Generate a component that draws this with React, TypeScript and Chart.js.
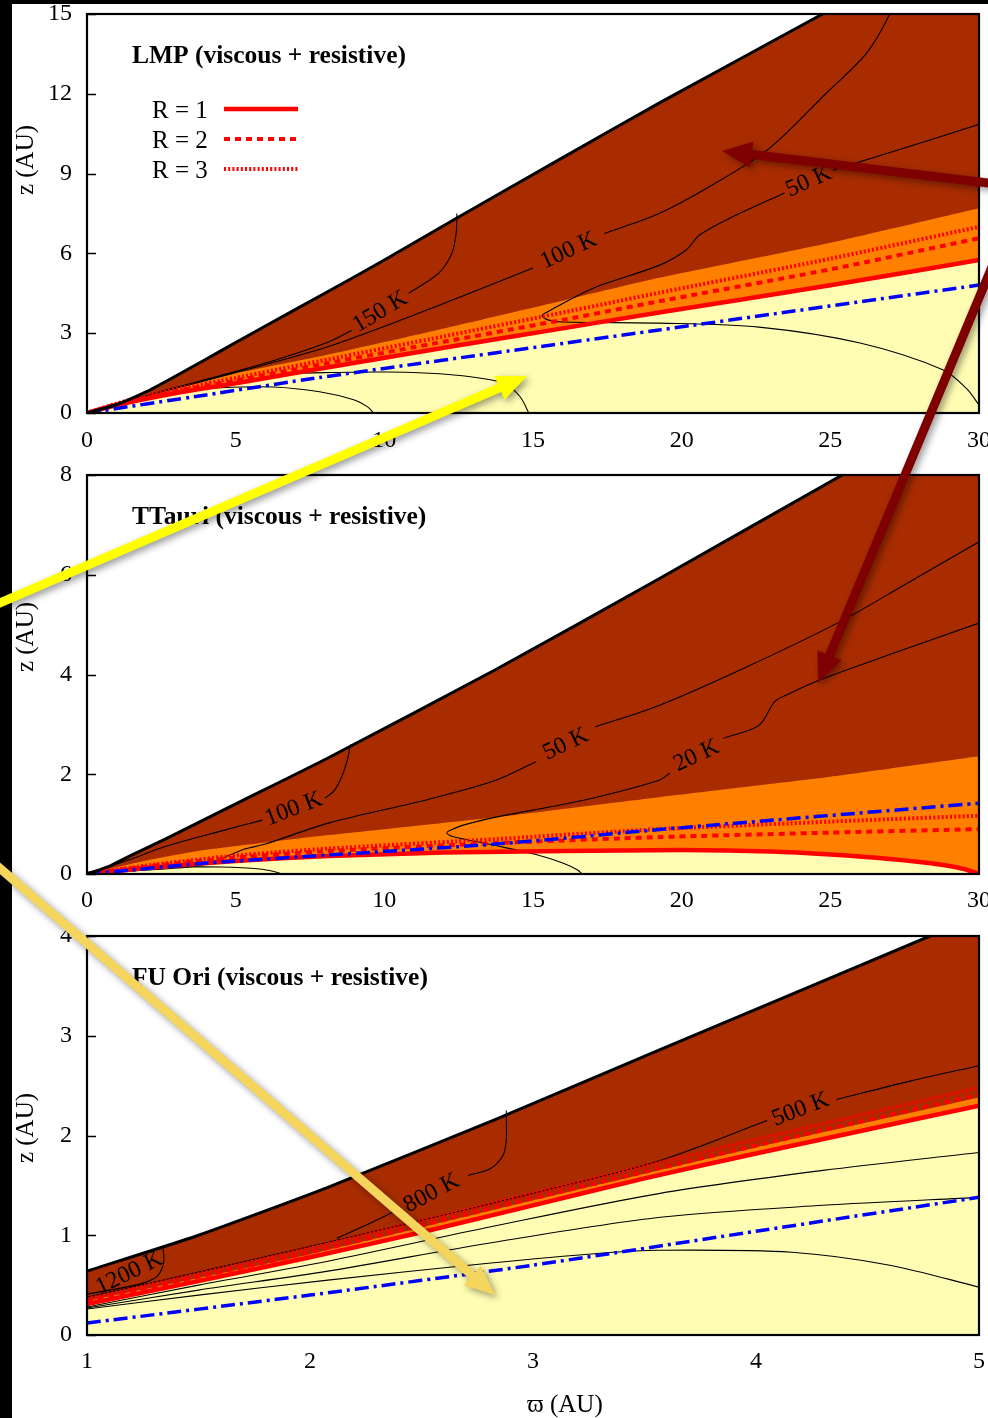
import React, { useEffect, useRef } from 'react';
import { Chart, registerables } from 'chart.js';

Chart.register(...registerables);

type Pt = [number, number] | null;

const SERIF = "'Liberation Serif', 'Times New Roman', 'DejaVu Serif', serif";
const BROWN = '#A82C00';
const ORANGE = '#FF8000';
const PALE = '#FFFDB3';
const RED = '#FF0000';
const BLUE = '#0000FF';

// ---------------- LMP disc (x: 0..30 AU, z: 0..15 AU) ----------------
const lmpSurface: Pt[] = [[0, 0], [1, 0.32], [2, 0.8], [3, 1.4], [4, 2.02], [5, 2.65], [6, 3.27], [8, 4.5], [10, 5.75], [12.44, 7.33], [16, 9.6], [19.24, 11.65], [24.74, 15], [30, 18.3]];
const lmpOrangeTop: Pt[] = [[0, 0], [2, 0.68], [4.85, 1.45], [7.8, 2.12], [11.2, 2.97], [16.1, 4.25], [19.24, 5.08], [25, 6.4], [30, 7.7]];
const lmpR1: Pt[] = [[0, 0], [1, 0.3], [3, 0.75], [5, 1.12], [8.12, 1.72], [12, 2.45], [16.1, 3.2], [19.24, 3.78], [25, 4.8], [30, 5.75]];
const lmpR2: Pt[] = [[0, 0], [1, 0.33], [3, 0.82], [5, 1.22], [8.12, 1.88], [12, 2.68], [16.1, 3.52], [19.24, 4.2], [25, 5.4], [30, 6.57]];
const lmpR3: Pt[] = [[0, 0], [1, 0.36], [3, 0.9], [5, 1.32], [8.12, 2.02], [12, 2.88], [16.1, 3.8], [19.24, 4.52], [25, 5.8], [30, 7.0]];
const lmpBlue: Pt[] = [[0, 0], [4, 0.68], [7.8, 1.33], [16.1, 2.63], [19.24, 3.12], [30, 4.81]];
const lmpT150: Pt[] = [[0, 0], [2, 0.66], [4.8, 1.5], [6.5, 2.05], [8.12, 2.67], [8.9, 3.1], null, [10.82, 4.5], [11.83, 5.26], [12.27, 6.0], [12.42, 6.8], [12.44, 7.5]];
const lmpT100: Pt[] = [[0, 0], [2, 0.63], [4.8, 1.46], [8.12, 2.5], [11.5, 3.9], [15.0, 5.45], null, [17.4, 6.75], [19.24, 7.5], [21, 8.55], [22.95, 9.95], [24.87, 12.03], [26.22, 13.53], [27.0, 15.0], [27.3, 16]];
const lmpT50: Pt[] = [[30, 10.85], [27.6, 10.0], [25.1, 9.13], null, [23.46, 8.27], [21.5, 7.26], [20.6, 6.69], [20.15, 6.13], [19.24, 5.55], [17.12, 4.74], [16.0, 4.12], [15.45, 3.78], [15.3, 3.66], [15.5, 3.5], [16.0, 3.42], [19.24, 3.38], [22.6, 3.23], [26, 2.63], [28.8, 1.62], [29.6, 0.9], [30, 0.3]];
const lmpLowA: Pt[] = [[3.5, 0.84], [4.5, 0.95], [6.27, 0.98], [7.82, 0.8], [8.97, 0.5], [9.45, 0.22], [9.64, 0]];
const lmpLowB: Pt[] = [[7.0, 1.5], [10.08, 1.54], [12.34, 1.43], [14.02, 1.13], [14.56, 0.62], [14.86, 0]];
const lmpLabels = [
  { text: '150 K', x: 9.86, y: 3.8, angle: -31 },
  { text: '100 K', x: 16.2, y: 6.1, angle: -25 },
  { text: '50 K', x: 24.28, y: 8.7, angle: -24 },
];

// ---------------- T Tauri disc (x: 0..30 AU, z: 0..8 AU) ----------------
const ttSurface: Pt[] = [[0, 0], [0.8, 0.17], [1.5, 0.38], [2.63, 0.7], [4.85, 1.36], [8.12, 2.33], [13.75, 4.1], [19.24, 5.92], [25.4, 8.0], [30, 9.55]];
const ttOrangeTop: Pt[] = [[0, 0], [2, 0.27], [3.74, 0.46], [6, 0.63], [8.12, 0.78], [13.75, 1.14], [19.24, 1.54], [25, 1.95], [30, 2.36]];
const ttR1: Pt[] = [[0, 0], [2, 0.12], [5, 0.26], [8.12, 0.36], [12, 0.43], [16, 0.46], [20, 0.48], [23, 0.45], [25, 0.39], [27, 0.3], [28.8, 0.18], [29.5, 0.1], [30, 0]];
const ttR2: Pt[] = [[0, 0], [2, 0.15], [5, 0.33], [8.12, 0.46], [13.75, 0.62], [19.24, 0.74], [25, 0.83], [30, 0.9]];
const ttR3: Pt[] = [[0, 0], [2, 0.17], [5, 0.37], [8.12, 0.51], [13.75, 0.7], [19.24, 0.9], [25, 1.05], [30, 1.17]];
const ttBlue: Pt[] = [[0, 0], [1.5, 0.08], [4, 0.22], [8.12, 0.38], [13.75, 0.6], [19.24, 0.89], [30, 1.42]];
const ttT100: Pt[] = [[0, 0], [1.5, 0.3], [2.63, 0.55], [4.5, 0.86], [5.9, 1.08], null, [8.0, 1.52], [8.3, 1.66], [8.56, 1.94], [8.76, 2.3], [8.86, 2.6]];
const ttT50: Pt[] = [[0, 0], [2, 0.08], [3.8, 0.17], [4.9, 0.4], [5.3, 0.5], [6, 0.6], [8.12, 1.02], [11.5, 1.5], [13.75, 1.88], [15.1, 2.25], null, [17.1, 2.95], [19.24, 3.38], [22, 4.1], [25.3, 5.05], [27.5, 5.8], [30, 6.66]];
const ttT20: Pt[] = [[30, 5.03], [27, 4.4], [24.64, 3.89], [23.53, 3.59], [23.12, 3.45], [22.6, 2.98], [21.4, 2.72], null, [19.6, 2.02], [19.24, 1.88], [17, 1.52], [15, 1.28], [13.75, 1.14], [12.6, 0.97], [12.2, 0.87], [12.1, 0.82], [12.3, 0.75], [13.0, 0.66], [13.75, 0.57], [15.1, 0.39], [16.0, 0.22], [16.5, 0.08], [16.65, 0]];
const ttLow: Pt[] = [[1.8, 0.12], [3, 0.14], [4.5, 0.14], [5.8, 0.1], [6.35, 0.04], [6.54, 0]];
const ttLabels = [
  { text: '100 K', x: 6.95, y: 1.3, angle: -21 },
  { text: '50 K', x: 16.1, y: 2.6, angle: -26 },
  { text: '20 K', x: 20.5, y: 2.37, angle: -25 },
];

// ---------------- FU Ori disc (x: 1..5 AU, z: 0..4 AU) ----------------
const fuSurface: Pt[] = [[1, 0.64], [1.5, 1.0], [2.08, 1.48], [2.83, 2.16], [3.57, 2.86], [4.78, 4.0], [5, 4.21]];
const fuOrangeTop: Pt[] = [[1, 0.34], [2, 0.81], [3, 1.35], [4, 1.88], [5, 2.38]];
const fuR1: Pt[] = [[1, 0.31], [1.5, 0.54], [2, 0.78], [2.5, 1.03], [3, 1.3], [3.5, 1.57], [4, 1.82], [4.5, 2.06], [5, 2.3]];
const fuR2: Pt[] = [[1, 0.34], [2, 0.83], [3, 1.37], [4, 1.9], [5, 2.41]];
const fuR3: Pt[] = [[1, 0.36], [2, 0.87], [3, 1.42], [4, 1.96], [5, 2.48]];
const fuBlue: Pt[] = [[1, 0.12], [2, 0.4], [3, 0.7], [4, 1.04], [5, 1.38]];
const fuT1200: Pt[] = [[1.34, 0.89], [1.345, 0.75], [1.335, 0.66], [1.31, 0.58], [1.25, 0.52], [1.15, 0.47], [1.05, 0.43], [1.0, 0.41]];
const fuT800: Pt[] = [[2.88, 2.25], [2.88, 1.95], [2.865, 1.8], [2.81, 1.67], [2.71, 1.6], null, [2.38, 1.24], [2.25, 1.1], [2.12, 0.97]];
const fuT500: Pt[] = [[1, 0.38], [1.5, 0.63], [2.08, 0.93], [2.5, 1.15], [3.0, 1.42], [3.57, 1.75], [4.05, 2.15], null, [4.36, 2.36], [4.7, 2.55], [5, 2.7]];
const fuC1: Pt[] = [[1, 0.28], [1.5, 0.5], [2.08, 0.74], [2.8, 1.08], [3.57, 1.42], [4.3, 1.65], [5, 1.83]];
const fuC2: Pt[] = [[1, 0.27], [1.5, 0.45], [2.08, 0.64], [2.8, 0.92], [3.57, 1.18], [4.3, 1.3], [5, 1.38]];
const fuC3: Pt[] = [[1, 0.26], [1.5, 0.4], [2.08, 0.55], [2.8, 0.72], [3.3, 0.82], [3.57, 0.85], [4.16, 0.83], [4.6, 0.7], [5, 0.48]];
const fuLabels = [
  { text: '1200 K', x: 1.19, y: 0.62, angle: -26 },
  { text: '800 K', x: 2.545, y: 1.42, angle: -28 },
  { text: '500 K', x: 4.2, y: 2.26, angle: -21 },
];

// Legend rows for the resistivity contours
const legendRows = [
  { text: 'R = 1', width: 4.5, dash: [] as number[] },
  { text: 'R = 2', width: 4, dash: [6, 5] },
  { text: 'R = 3', width: 4, dash: [2, 2.2] },
];

// Pointer arrows laid over the whole figure (page pixels)
const arrows = [
  { from: [996, 184], to: [722, 151], color: '#7F0000' },
  { from: [994, 262], to: [818, 683], color: '#7F0000' },
  { from: [-12, 608], to: [527, 376], color: '#FFFF00' },
  { from: [-12, 858], to: [495, 1295], color: '#F6D55C' },
];

const toXY = (pts: Pt[]) =>
  pts.map((p, i) => (p ? { x: p[0], y: p[1] } : { x: (pts[i - 1] as [number, number])[0], y: null }));

function area(pts: Pt[], color: string, order: number) {
  return {
    data: toXY(pts), fill: 'origin', backgroundColor: color, borderColor: 'rgba(0,0,0,0)',
    borderWidth: 0, pointRadius: 0, tension: 0.2, order,
  };
}

function curve(pts: Pt[], color: string, width: number, dash: number[], order: number, tension = 0.2) {
  return {
    data: toXY(pts), fill: false, borderColor: color, borderWidth: width, borderDash: dash,
    pointRadius: 0, tension, order, borderCapStyle: 'butt', borderJoinStyle: 'round',
  };
}

interface Decor {
  title: string;
  yTitleY: number;
  labels: { text: string; x: number; y: number; angle: number }[];
  legend?: boolean;
  xTitle?: { text: string; x: number; y: number };
}

function decorPlugin(d: Decor) {
  return {
    id: 'panelDecor',
    beforeDatasetsDraw(chart: any) {
      const { ctx, chartArea: a } = chart;
      const ys = chart.scales.y;
      ctx.save();
      ctx.strokeStyle = '#000';
      ctx.lineWidth = 1.5;
      ys.ticks.forEach((t: any) => {
        const py = Math.round(ys.getPixelForValue(t.value)) + 0.5;
        ctx.beginPath();
        ctx.moveTo(a.left, py);
        ctx.lineTo(a.left + 9, py);
        ctx.stroke();
      });
      ctx.restore();
    },
    afterDatasetsDraw(chart: any) {
      const { ctx, chartArea: a } = chart;
      const xs = chart.scales.x;
      const ys = chart.scales.y;
      ctx.save();
      ctx.strokeStyle = '#000';
      ctx.lineWidth = 2.2;
      ctx.strokeRect(a.left, a.top, a.right - a.left, a.bottom - a.top);

      ctx.fillStyle = '#000';
      ctx.font = `bold 25.5px ${SERIF}`;
      ctx.textAlign = 'left';
      ctx.textBaseline = 'alphabetic';
      ctx.fillText(d.title, 132, a.top + 48.5);

      ctx.font = `24px ${SERIF}`;
      ctx.textAlign = 'center';
      ctx.textBaseline = 'middle';
      d.labels.forEach((l) => {
        ctx.save();
        ctx.translate(xs.getPixelForValue(l.x), ys.getPixelForValue(l.y));
        ctx.rotate((l.angle * Math.PI) / 180);
        ctx.fillText(l.text, 0, 0);
        ctx.restore();
      });

      ctx.save();
      ctx.font = `25px ${SERIF}`;
      ctx.translate(26, d.yTitleY);
      ctx.rotate(-Math.PI / 2);
      ctx.textAlign = 'center';
      ctx.textBaseline = 'middle';
      ctx.fillText('z (AU)', 0, 0);
      ctx.restore();

      if (d.xTitle) {
        ctx.font = `25px ${SERIF}`;
        ctx.textAlign = 'center';
        ctx.textBaseline = 'alphabetic';
        ctx.fillText(d.xTitle.text, d.xTitle.x, d.xTitle.y);
      }

      if (d.legend) {
        legendRows.forEach((r, i) => {
          ctx.font = `25px ${SERIF}`;
          ctx.textAlign = 'left';
          ctx.textBaseline = 'alphabetic';
          ctx.fillStyle = '#000';
          ctx.fillText(r.text, 152, 118 + 30 * i);
          ctx.beginPath();
          ctx.strokeStyle = RED;
          ctx.lineWidth = r.width;
          ctx.setLineDash(r.dash);
          ctx.lineCap = 'butt';
          ctx.moveTo(224, 109 + 30 * i);
          ctx.lineTo(298, 109 + 30 * i);
          ctx.stroke();
          ctx.setLineDash([]);
        });
      }
      ctx.restore();
    },
  };
}

interface PanelSpec {
  height: number;
  padTop: number;
  xAxisH: number;
  xMin: number; xMax: number; xStep: number; xPad: number;
  yMax: number; yStep: number;
  datasets: any[];
  decor: Decor;
}

function buildPanel(surface: Pt[], orangeTop: Pt[], r1: Pt[], r2: Pt[], r3: Pt[], blue: Pt[], contours: Pt[][]) {
  return [
    curve(surface, '#000', 3, [], 1, 0.2),
    curve(blue, BLUE, 3.5, [14, 5, 3, 5], 2),
    curve(r1, RED, 4.5, [], 3),
    curve(r2, RED, 4, [6, 5], 4),
    curve(r3, RED, 4, [2, 2.2], 5),
    ...contours.map((c) => curve(c, '#000', 1.1, [], 10, 0.3)),
    area(r1, PALE, 20),
    area(orangeTop, ORANGE, 21),
    area(surface, BROWN, 22),
  ];
}

const tickFont = { family: SERIF, size: 24 };

function makeConfig(p: PanelSpec): any {
  return {
    type: 'line',
    data: { datasets: p.datasets },
    options: {
      animation: false,
      responsive: false,
      devicePixelRatio: 1,
      events: [],
      layout: { padding: { left: 0, right: 9, top: p.padTop, bottom: 0 } },
      plugins: { legend: { display: false }, tooltip: { enabled: false } },
      scales: {
        x: {
          type: 'linear', min: p.xMin, max: p.xMax,
          grid: { display: false, drawTicks: false },
          border: { display: false },
          ticks: { stepSize: p.xStep, font: tickFont, color: '#000', padding: p.xPad, maxRotation: 0, autoSkip: false },
          afterFit: (s: any) => { s.height = p.xAxisH; s.paddingLeft = 0; s.paddingRight = 0; },
        },
        y: {
          type: 'linear', min: 0, max: p.yMax,
          grid: { display: false, drawTicks: false },
          border: { display: false },
          ticks: { stepSize: p.yStep, font: tickFont, color: '#000', padding: 15 },
          afterFit: (s: any) => { s.width = 87; s.paddingTop = 0; s.paddingBottom = 0; },
        },
      },
    },
    plugins: [decorPlugin(p.decor)],
  };
}

const panels: { top: number; spec: PanelSpec }[] = [
  {
    top: 0,
    spec: {
      height: 460, padTop: 14, xAxisH: 47, xMin: 0, xMax: 30, xStep: 5, xPad: 13, yMax: 15, yStep: 3,
      datasets: buildPanel(lmpSurface, lmpOrangeTop, lmpR1, lmpR2, lmpR3, lmpBlue, [lmpT150, lmpT100, lmpT50, lmpLowA, lmpLowB]),
      decor: { title: 'LMP (viscous + resistive)', yTitleY: 160, labels: lmpLabels, legend: true },
    },
  },
  {
    top: 460,
    spec: {
      height: 460, padTop: 15, xAxisH: 46, xMin: 0, xMax: 30, xStep: 5, xPad: 12, yMax: 8, yStep: 2,
      datasets: buildPanel(ttSurface, ttOrangeTop, ttR1, ttR2, ttR3, ttBlue, [ttT100, ttT50, ttT20, ttLow]),
      decor: { title: 'TTauri (viscous + resistive)', yTitleY: 177, labels: ttLabels },
    },
  },
  {
    top: 920,
    spec: {
      height: 498, padTop: 16, xAxisH: 83, xMin: 1, xMax: 5, xStep: 1, xPad: 12, yMax: 4, yStep: 1,
      datasets: buildPanel(fuSurface, fuOrangeTop, fuR1, fuR2, fuR3, fuBlue, [fuT1200, fuT800, fuT500, fuC1, fuC2, fuC3]),
      decor: { title: 'FU Ori (viscous + resistive)', yTitleY: 208, labels: fuLabels, xTitle: { text: 'ϖ (AU)', x: 565, y: 492 } },
    },
  },
];

function Panel({ top, spec }: { top: number; spec: PanelSpec }) {
  const ref = useRef<HTMLCanvasElement>(null);
  useEffect(() => {
    const chart = new Chart(ref.current as HTMLCanvasElement, makeConfig(spec));
    return () => chart.destroy();
  }, []);
  return (
    <canvas
      ref={ref}
      width={988}
      height={spec.height}
      style={{ position: 'absolute', left: 0, top, width: 988, height: spec.height }}
    />
  );
}

function drawArrow(ctx: CanvasRenderingContext2D, from: number[], to: number[], color: string) {
  const dx = to[0] - from[0];
  const dy = to[1] - from[1];
  const len = Math.hypot(dx, dy);
  const ux = dx / len, uy = dy / len;
  const nx = -uy, ny = ux;
  const shaft = 4.5, headLen = 30, headHalf = 13;
  const bx = to[0] - ux * headLen, by = to[1] - uy * headLen;
  ctx.beginPath();
  ctx.moveTo(from[0] + nx * shaft, from[1] + ny * shaft);
  ctx.lineTo(bx + nx * shaft, by + ny * shaft);
  ctx.lineTo(bx + nx * headHalf, by + ny * headHalf);
  ctx.lineTo(to[0], to[1]);
  ctx.lineTo(bx - nx * headHalf, by - ny * headHalf);
  ctx.lineTo(bx - nx * shaft, by - ny * shaft);
  ctx.lineTo(from[0] - nx * shaft, from[1] - ny * shaft);
  ctx.closePath();
  ctx.fillStyle = color;
  ctx.fill();
}

function ArrowLayer() {
  const ref = useRef<HTMLCanvasElement>(null);
  useEffect(() => {
    const ctx = (ref.current as HTMLCanvasElement).getContext('2d') as CanvasRenderingContext2D;
    ctx.save();
    ctx.shadowColor = 'rgba(0,0,0,0.4)';
    ctx.shadowBlur = 7;
    ctx.shadowOffsetX = 3;
    ctx.shadowOffsetY = 3;
    arrows.forEach((a) => drawArrow(ctx, a.from, a.to, a.color));
    ctx.restore();
    return () => ctx.clearRect(0, 0, 988, 1418);
  }, []);
  return (
    <canvas
      ref={ref}
      width={988}
      height={1418}
      style={{ position: 'absolute', left: 0, top: 0, width: 988, height: 1418, pointerEvents: 'none' }}
    />
  );
}

export default function App() {
  return (
    <div style={{ position: 'absolute', left: 0, top: 0, width: 988, height: 1418, background: '#fff', overflow: 'hidden' }}>
      <div style={{ position: 'absolute', left: 0, top: 0, width: 12, height: 1418, background: '#000' }} />
      <div style={{ position: 'absolute', left: 0, top: 0, width: 988, height: 4, background: '#000' }} />
      {panels.map((p, i) => (
        <Panel key={i} top={p.top} spec={p.spec} />
      ))}
      <ArrowLayer />
    </div>
  );
}
